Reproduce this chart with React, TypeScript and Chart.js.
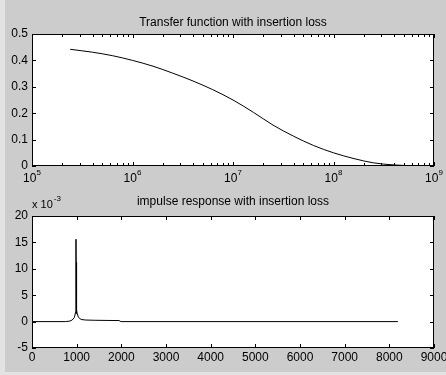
import React, { useEffect, useRef } from 'react';
import { Chart, registerables } from 'chart.js';

Chart.register(...registerables);

const FONT = '"Liberation Sans", Arial, Helvetica, sans-serif';
const FIG_BG = '#cccccc';

// ---------- Top subplot: transfer function ----------
const tfTitle = 'Transfer function with insertion loss';
const tfFrequency = [2.4e5, 4e5, 6.3e5, 1e6, 1.6e6, 2.5e6, 4e6, 6.3e6, 1e7, 1.6e7, 2.5e7, 4e7, 6.3e7, 1e8, 1.6e8, 2.5e8, 4e8, 6.3e8, 1e9];
const tfMagnitude = [0.442, 0.431, 0.418, 0.400, 0.378, 0.352, 0.322, 0.289, 0.250, 0.203, 0.155, 0.113, 0.078, 0.050, 0.028, 0.012, 0.004, 0.001, 0];
const tfDecadeExponents = [5, 6, 7, 8, 9];
const tfMinorMultipliers = [2, 3, 4, 5, 6, 7, 8, 9];
const tfYTicks = [0, 0.1, 0.2, 0.3, 0.4, 0.5];

// ---------- Bottom subplot: impulse response (values in units of 1e-3) ----------
const irTitle = 'impulse response with insertion loss';
const irScaleBase = 'x 10';
const irScaleExponent = '-3';
const irSample = [0, 750, 850, 900, 950, 975, 985, 990, 995, 1000, 1010, 1040, 1100, 1200, 1400, 1700, 1950, 1990, 8192];
const irAmplitude = [0, 0, 0.1, 0.3, 0.8, 1.8, 15.6, 1.5, 11.2, 2.2, 1.6, 0.8, 0.4, 0.3, 0.25, 0.22, 0.2, 0, 0];
const irXTicks = [0, 1000, 2000, 3000, 4000, 5000, 6000, 7000, 8000, 9000];
const irYTicks = [-5, 0, 5, 10, 15, 20];

const MAJOR_TICK = 4;
const MINOR_TICK = 3;

function crisp(v: number) {
  return Math.round(v) + 0.5;
}

function framePlugin(opts: { xMajor: number[]; xMinor: number[]; yMajor: number[]; after?: (chart: any) => void }) {
  return {
    id: 'matlabFrame',
    beforeDraw(chart: any) {
      const { ctx, chartArea: a } = chart;
      ctx.save();
      ctx.fillStyle = '#ffffff';
      ctx.fillRect(a.left, a.top, a.right - a.left, a.bottom - a.top);
      ctx.restore();
    },
    afterDatasetsDraw(chart: any) {
      const { ctx, chartArea: a } = chart;
      const xs = chart.scales.x;
      const ys = chart.scales.y;
      ctx.save();
      ctx.strokeStyle = '#000000';
      ctx.lineWidth = 1;
      ctx.beginPath();
      const drawX = (v: number, len: number) => {
        const px = crisp(xs.getPixelForValue(v));
        ctx.moveTo(px, a.bottom);
        ctx.lineTo(px, a.bottom - len);
        ctx.moveTo(px, a.top);
        ctx.lineTo(px, a.top + len);
      };
      opts.xMajor.forEach((v) => drawX(v, MAJOR_TICK));
      opts.xMinor.forEach((v) => drawX(v, MINOR_TICK));
      opts.yMajor.forEach((v) => {
        const py = crisp(ys.getPixelForValue(v));
        ctx.moveTo(a.left, py);
        ctx.lineTo(a.left + MAJOR_TICK, py);
        ctx.moveTo(a.right, py);
        ctx.lineTo(a.right - MAJOR_TICK, py);
      });
      ctx.stroke();
      ctx.strokeRect(crisp(a.left), crisp(a.top), Math.round(a.right - a.left) - 1, Math.round(a.bottom - a.top) - 1);
      ctx.restore();
    },
    afterDraw(chart: any) {
      if (opts.after) opts.after(chart);
    },
  };
}

function topConfig(): any {
  const xMajor = tfDecadeExponents.map((e) => Math.pow(10, e));
  const xMinor: number[] = [];
  tfDecadeExponents.slice(0, -1).forEach((e) => tfMinorMultipliers.forEach((m) => xMinor.push(m * Math.pow(10, e))));
  return {
    type: 'line',
    data: {
      datasets: [
        {
          data: tfFrequency.map((f, i) => ({ x: f, y: tfMagnitude[i] })),
          borderColor: '#000000',
          borderWidth: 1,
          pointRadius: 0,
          cubicInterpolationMode: 'monotone',
          fill: false,
        },
      ],
    },
    options: {
      responsive: false,
      animation: false,
      events: [],
      layout: { padding: { left: 0, right: 12, top: 0, bottom: 0 } },
      plugins: {
        legend: { display: false },
        tooltip: { enabled: false },
        title: {
          display: true,
          text: tfTitle,
          fullSize: false,
          color: '#000000',
          font: { family: FONT, size: 12, weight: 'normal' },
          padding: { top: 15, bottom: 4.6 },
        },
      },
      scales: {
        x: {
          type: 'logarithmic',
          min: 1e5,
          max: 1e9,
          grid: { display: false, drawTicks: false },
          border: { display: false },
          ticks: { display: false },
          afterFit: (s: any) => {
            s.height = 21;
            s.paddingLeft = 0;
            s.paddingRight = 0;
          },
        },
        y: {
          type: 'linear',
          min: 0,
          max: 0.5,
          afterBuildTicks: (s: any) => {
            s.ticks = tfYTicks.map((v) => ({ value: v }));
          },
          grid: { display: false, drawTicks: false },
          border: { display: false },
          ticks: {
            color: '#000000',
            font: { family: FONT, size: 12 },
            padding: 4,
            callback: (v: any) => String(Math.round(Number(v) * 10) / 10),
          },
          afterFit: (s: any) => {
            s.width = 32;
            s.paddingTop = 0;
            s.paddingBottom = 0;
          },
        },
      },
    },
    plugins: [
      framePlugin({
        xMajor,
        xMinor,
        yMajor: tfYTicks,
        after: (chart: any) => {
          const { ctx, chartArea: a } = chart;
          const xs = chart.scales.x;
          ctx.save();
          ctx.fillStyle = '#000000';
          ctx.textBaseline = 'middle';
          ctx.textAlign = 'left';
          tfDecadeExponents.forEach((e) => {
            const px = xs.getPixelForValue(Math.pow(10, e));
            ctx.font = `12px ${FONT}`;
            const w1 = ctx.measureText('10').width;
            ctx.font = `8px ${FONT}`;
            const w2 = ctx.measureText(String(e)).width;
            const start = px - (w1 + w2) / 2;
            ctx.font = `12px ${FONT}`;
            ctx.fillText('10', start, a.bottom + 13);
            ctx.font = `8px ${FONT}`;
            ctx.fillText(String(e), start + w1, a.bottom + 7);
          });
          ctx.restore();
        },
      }),
    ],
  };
}

function bottomConfig(): any {
  return {
    type: 'line',
    data: {
      datasets: [
        {
          data: irSample.map((t, i) => ({ x: t, y: irAmplitude[i] })),
          borderColor: '#000000',
          borderWidth: 1,
          pointRadius: 0,
          tension: 0,
          fill: false,
        },
      ],
    },
    options: {
      responsive: false,
      animation: false,
      events: [],
      layout: { padding: { left: 0, right: 12, top: 0, bottom: 0 } },
      plugins: {
        legend: { display: false },
        tooltip: { enabled: false },
        title: {
          display: true,
          text: irTitle,
          fullSize: false,
          color: '#000000',
          font: { family: FONT, size: 12, weight: 'normal' },
          padding: { top: 7.5, bottom: 7.1 },
        },
      },
      scales: {
        x: {
          type: 'linear',
          min: 0,
          max: 9000,
          afterBuildTicks: (s: any) => {
            s.ticks = irXTicks.map((v) => ({ value: v }));
          },
          grid: { display: false, drawTicks: false },
          border: { display: false },
          ticks: {
            color: '#000000',
            font: { family: FONT, size: 12 },
            padding: 2,
            maxRotation: 0,
            autoSkip: false,
            callback: (v: any) => String(v),
          },
          afterFit: (s: any) => {
            s.height = 27;
            s.paddingLeft = 0;
            s.paddingRight = 0;
          },
        },
        y: {
          type: 'linear',
          min: -5,
          max: 20,
          afterBuildTicks: (s: any) => {
            s.ticks = irYTicks.map((v) => ({ value: v }));
          },
          grid: { display: false, drawTicks: false },
          border: { display: false },
          ticks: {
            color: '#000000',
            font: { family: FONT, size: 12 },
            padding: 4,
            callback: (v: any) => String(v),
          },
          afterFit: (s: any) => {
            s.width = 32;
            s.paddingTop = 0;
            s.paddingBottom = 0;
          },
        },
      },
    },
    plugins: [
      framePlugin({
        xMajor: irXTicks,
        xMinor: [],
        yMajor: irYTicks,
        after: (chart: any) => {
          const { ctx, chartArea: a } = chart;
          ctx.save();
          ctx.fillStyle = '#000000';
          ctx.textBaseline = 'middle';
          ctx.textAlign = 'left';
          ctx.font = `11px ${FONT}`;
          ctx.fillText(irScaleBase, a.left, a.top - 11);
          const w = ctx.measureText(irScaleBase).width;
          ctx.font = `8px ${FONT}`;
          ctx.fillText(irScaleExponent, a.left + w + 1, a.top - 17);
          ctx.restore();
        },
      }),
    ],
  };
}

function ChartCanvas({ makeConfig, top, height }: { makeConfig: () => any; top: number; height: number }) {
  const ref = useRef<HTMLCanvasElement>(null);
  useEffect(() => {
    if (!ref.current) return;
    const chart = new Chart(ref.current, makeConfig());
    return () => chart.destroy();
  }, []);
  return (
    <canvas
      ref={ref}
      width={446}
      height={height}
      style={{ position: 'absolute', left: 0, top, width: 446, height, display: 'block' }}
    />
  );
}

export default function App() {
  return (
    <div style={{ position: 'fixed', left: 0, top: 0, width: 446, height: 375, background: '#e2e2e2', overflow: 'hidden' }}>
      <div style={{ position: 'absolute', left: 5, top: 0, width: 441, height: 372, background: FIG_BG }} />
      <ChartCanvas makeConfig={topConfig} top={0} height={187} />
      <ChartCanvas makeConfig={bottomConfig} top={187} height={188} />
    </div>
  );
}
